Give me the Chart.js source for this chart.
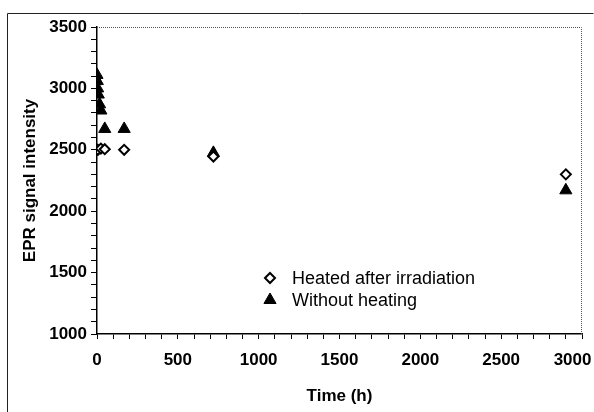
<!DOCTYPE html>
<html>
<head>
<meta charset="utf-8">
<script src="https://cdn.jsdelivr.net/npm/chart.js@4/dist/chart.umd.min.js"></script>
<style>
  html, body { margin: 0; padding: 0; background: #fff; }
  #wrap { width: 594px; height: 412px; }
</style>
</head>
<body>
<div id="wrap"><canvas id="eprChart"></canvas></div>
<script>
// time (h) and EPR signal intensity
var heatedTime = [0, 6, 24, 48, 168, 720, 2900];
var heatedSignal = [2500, 2500, 2510, 2505, 2500, 2445, 2300];
var unheatedTime = [0, 2, 4, 8, 16, 24, 48, 168, 720, 2900];
var unheatedSignal = [3110, 3060, 3000, 2950, 2870, 2820, 2670, 2670, 2475, 2170];
var seriesLabels = ['Heated after irradiation', 'Without heating'];

function toPoints(xs, ys) {
  return xs.map(function (x, i) { return { x: x, y: ys[i] }; });
}

var fontFamily = "'Liberation Sans', Arial, sans-serif";

// outer frame, dotted top/right border and the legend inside the plot
var framePlugin = {
  id: 'frame',
  afterDraw: function (chart) {
    var ctx = chart.ctx;
    var a = chart.chartArea;
    ctx.save();
    ctx.strokeStyle = '#222';
    ctx.lineWidth = 1;
    ctx.beginPath();
    ctx.moveTo(7.5, 412);
    ctx.lineTo(7.5, 13.5);
    ctx.lineTo(593.5, 13.5);
    ctx.stroke();

    ctx.strokeStyle = '#555';
    ctx.setLineDash([1, 1]);
    ctx.beginPath();
    ctx.moveTo(a.left, a.top + 0.5);
    ctx.lineTo(a.right - 0.5, a.top + 0.5);
    ctx.lineTo(a.right - 0.5, a.bottom);
    ctx.stroke();
    ctx.setLineDash([]);

    var ds = chart.data.datasets;
    var rows = [a.top + 251, a.top + 273];
    ctx.font = '18px ' + fontFamily;
    ctx.textBaseline = 'middle';
    ds.forEach(function (d, i) {
      ctx.fillStyle = d.backgroundColor;
      ctx.strokeStyle = d.borderColor;
      ctx.lineWidth = d.borderWidth;
      Chart.helpers.drawPoint(ctx, {
        pointStyle: d.pointStyle, radius: d.pointRadius, rotation: 0, borderWidth: d.borderWidth
      }, a.left + 173, rows[i]);
      ctx.fillStyle = '#000';
      ctx.fillText(d.label, a.left + 195, rows[i] + 1);
    });
    ctx.restore();
  }
};

new Chart(document.getElementById('eprChart'), {
  type: 'scatter',
  data: {
    datasets: [{
      label: seriesLabels[0],
      data: toPoints(heatedTime, heatedSignal),
      pointStyle: 'rectRot',
      pointRadius: 5,
      pointHoverRadius: 5,
      borderWidth: 2,
      borderColor: '#000',
      backgroundColor: '#fff'
    }, {
      label: seriesLabels[1],
      data: toPoints(unheatedTime, unheatedSignal),
      pointStyle: 'triangle',
      pointRadius: 7,
      pointHoverRadius: 7,
      borderWidth: 1,
      borderColor: '#000',
      backgroundColor: '#000'
    }]
  },
  options: {
    responsive: true,
    maintainAspectRatio: false,
    animation: false,
    layout: { padding: { left: 0, top: 27, right: 12, bottom: 0 } },
    plugins: {
      legend: { display: false },
      tooltip: { enabled: false }
    },
    scales: {
      x: {
        type: 'linear',
        min: 0,
        max: 3000,
        afterFit: function (s) {
          s.height = 78;
          s.paddingLeft = 0;
          s.paddingRight = 0;
        },
        border: { display: true, color: '#000', width: 1.5 },
        grid: { drawOnChartArea: false, drawTicks: true, tickLength: 5, color: '#000' },
        ticks: {
          stepSize: 100,
          autoSkip: false,
          maxRotation: 0,
          padding: 11,
          color: '#000',
          font: { family: fontFamily, size: 17, weight: 'bold' },
          callback: function (v) {
            if (v % 500 !== 0) return '';
            return v === 3000 ? '3000    ' : v;
          }
        },
        title: {
          display: true,
          text: 'Time (h)',
          color: '#000',
          font: { family: fontFamily, size: 17, weight: 'bold' },
          padding: { top: 0, bottom: 5 }
        }
      },
      y: {
        min: 1000,
        max: 3500,
        afterFit: function (s) { s.width = 97; },
        border: { display: true, color: '#000', width: 1.5 },
        grid: { drawOnChartArea: false, drawTicks: true, tickLength: 6, color: '#000' },
        ticks: {
          stepSize: 100,
          autoSkip: false,
          padding: 4,
          color: '#000',
          font: { family: fontFamily, size: 17, weight: 'bold' },
          callback: function (v) { return v % 500 === 0 ? v : ''; }
        },
        title: {
          display: true,
          text: 'EPR signal intensity',
          color: '#000',
          font: { family: fontFamily, size: 17, weight: 'bold' },
          padding: { top: 20, bottom: 0 }
        }
      }
    }
  },
  plugins: [framePlugin]
});
</script>
</body>
</html>
